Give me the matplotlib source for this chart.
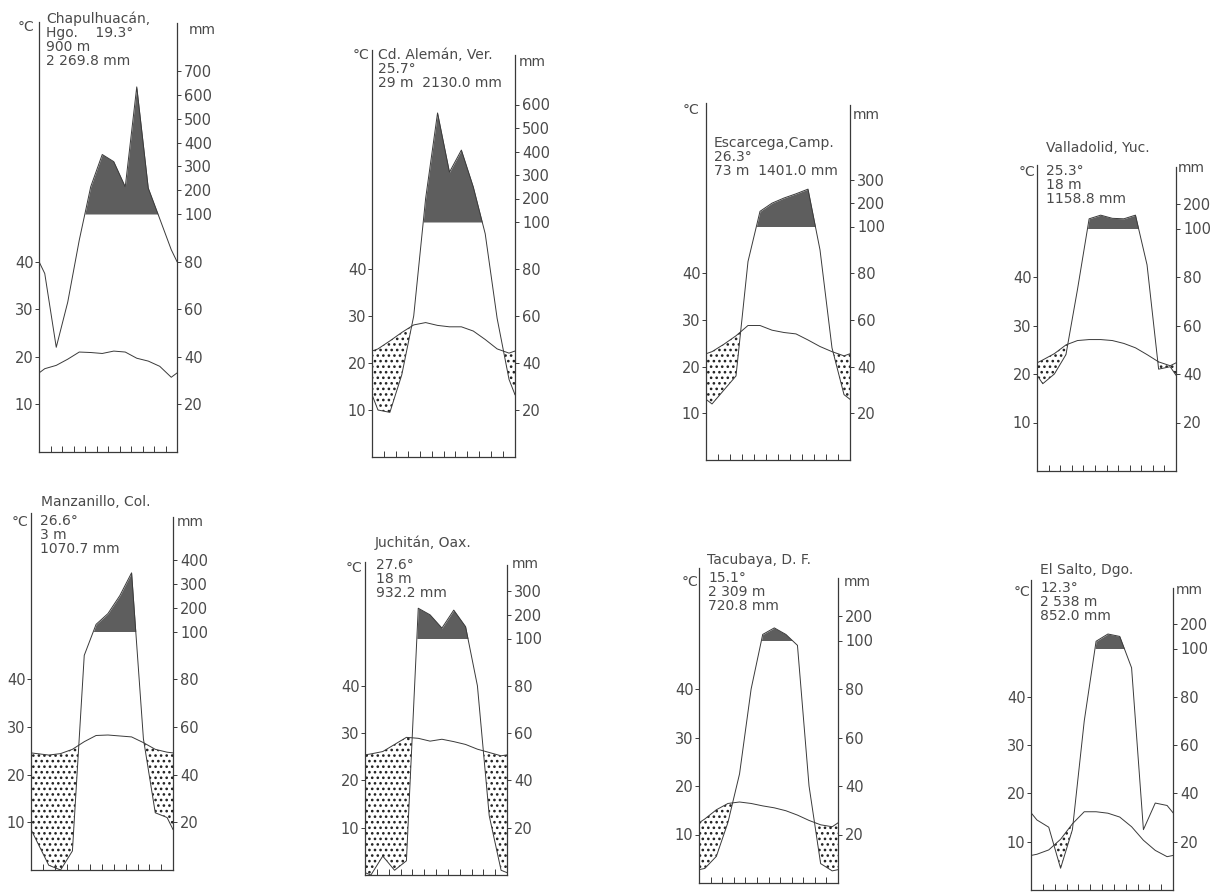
import numpy as np
import matplotlib.pyplot as plt

# 8 diagramas climáticos (tipo Walter-Lieth), escala: 10 °C = 20 mm, arriba de 100 mm 1:10

stations = ["Chapulhuacán,\nHgo.    19.3°\n900 m\n2 269.8 mm",
            "Cd. Alemán, Ver.\n25.7°\n29 m  2130.0 mm",
            "Escarcega,Camp.\n26.3°\n73 m  1401.0 mm",
            "Valladolid, Yuc.", "Manzanillo, Col.", "Juchitán, Oax.",
            "Tacubaya, D. F.", "El Salto, Dgo."]
subtitles = [None, None, None,
             "25.3°\n18 m\n1158.8 mm", "26.6°\n3 m\n1070.7 mm",
             "27.6°\n18 m\n932.2 mm", "15.1°\n2 309 m\n720.8 mm",
             "12.3°\n2 538 m\n852.0 mm"]

# temperatura media mensual (°C), ene..dic
t_chap = [17.5, 18.2, 19.5, 21.0, 20.9, 20.7, 21.2, 21.0, 19.7, 19.1, 18.0, 15.7]
t_alem = [23.0, 24.7, 26.5, 28.1, 28.6, 28.0, 27.7, 27.7, 26.8, 25.0, 23.0, 22.1]
t_esca = [23.2, 24.8, 26.6, 28.8, 28.8, 27.8, 27.3, 27.0, 25.7, 24.3, 23.2, 22.3]
t_vall = [22.9, 24.2, 26.0, 26.9, 27.1, 27.1, 26.9, 26.3, 25.4, 24.0, 22.5, 21.7]
t_manz = [24.4, 24.1, 24.4, 25.3, 26.9, 28.2, 28.3, 28.1, 27.9, 26.7, 25.3, 24.7]
t_juch = [25.6, 26.1, 27.6, 29.1, 28.9, 28.3, 28.7, 28.2, 27.6, 26.6, 25.9, 25.2]
t_tacu = [13.2, 15.1, 16.4, 16.7, 16.4, 15.9, 15.5, 14.9, 14.0, 12.9, 12.0, 11.6]
t_salt = [7.4, 8.3, 10.5, 13.7, 16.2, 16.2, 15.9, 15.1, 13.1, 10.3, 8.2, 6.9]

# precipitación mensual (mm)
p_chap = [75, 44, 63, 89, 215, 350, 320, 214, 634, 209, 98, 85]
p_alem = [20, 19, 35, 60, 200, 564, 312, 406, 249, 95, 59, 33]
p_esca = [24, 30, 36, 85, 165, 200, 222, 240, 260, 90, 48, 28]
p_vall = [36, 40, 48, 75, 140, 155, 142, 140, 155, 85, 42, 43]
p_manz = [12, 2, 0, 8, 90, 130, 175, 250, 346, 55, 24, 22]
p_juch = [0, 8, 2, 6, 228, 200, 144, 220, 150, 80, 25, 2]
p_tacu = [6, 11, 25, 45, 80, 125, 152, 125, 98, 40, 8, 5]
p_salt = [29, 26, 9, 25, 70, 130, 160, 150, 92, 25, 36, 35]

temps = [t_chap, t_alem, t_esca, t_vall, t_manz, t_juch, t_tacu, t_salt]
rains = [p_chap, p_alem, p_esca, p_vall, p_manz, p_juch, p_tacu, p_salt]
mm_ticks = [[20, 40, 60, 80, 100, 200, 300, 400, 500, 600, 700],
            [20, 40, 60, 80, 100, 200, 300, 400, 500, 600],
            [20, 40, 60, 80, 100, 200, 300],
            [20, 40, 60, 80, 100, 200],
            [20, 40, 60, 80, 100, 200, 300, 400],
            [20, 40, 60, 80, 100, 200, 300],
            [20, 40, 60, 80, 100, 200],
            [20, 40, 60, 80, 100, 200]]

# posición de cada diagrama en pixeles: eje izq, eje der, y de 0 °C, px por °C,
# tope eje izq, tope eje der
boxes = [(39, 177, 452, 4.76, 22, 23),
         (372, 515, 457, 4.70, 50, 55),
         (706, 850, 460, 4.67, 103, 105),
         (1037, 1176, 471, 4.85, 165, 167),
         (31, 173, 870, 4.77, 513, 517),
         (365, 507, 875, 4.73, 562, 565),
         (699, 838, 883, 4.85, 568, 578),
         (1031, 1173, 890, 4.83, 580, 588)]
# (x, y) del texto del nombre, (x, y) del resto, °C (x der, y), mm (x, y)
title_pos = [(46, 12), (378, 48), (714, 136), (1046, 141),
             (41, 495), (375, 535), (707, 553), (1040, 563)]
sub_pos = [None, None, None, (1046, 164), (40, 514), (376, 558), (708, 571), (1040, 581)]
degc_pos = [(34, 27), (369, 55), (699, 110), (1035, 172),
            (28, 522), (362, 568), (698, 582), (1030, 592)]
mm_pos = [(189, 30), (519, 62), (853, 115), (1178, 168),
          (177, 522), (512, 564), (844, 582), (1176, 590)]

W, H = 1214, 892
ink = "#3a3a3a"
txt = "#4a4a4a"
dark = "#5e5e5e"

plt.rcParams["font.family"] = ["DejaVu Sans"]
plt.rcParams["hatch.color"] = "#222222"
plt.rcParams["hatch.linewidth"] = 1.1


def mm_units(p):
    # mm -> unidades del eje de temperatura
    p = np.asarray(p, dtype=float)
    return np.where(p <= 100, p / 2.0, 50 + (p - 100) / 20.0)


fig = plt.figure(figsize=(W / 100, H / 100), dpi=100)
fig.patch.set_facecolor("white")

mid = np.arange(12) + 0.5
x = np.concatenate([[0], mid, [12]])

for i in range(8):
    left, right, zero, sc, top_l, top_r = boxes[i]
    ax = fig.add_axes([left / W, 1 - zero / H, (right - left) / W, (zero - top_l) / H])
    ymax = (zero - top_l) / sc
    ax.set_xlim(0, 12)
    ax.set_ylim(0, ymax)

    t = np.asarray(temps[i], dtype=float)
    r = mm_units(rains[i])
    # los extremos se cierran con el promedio dic/ene
    tt = np.concatenate([[(t[0] + t[-1]) / 2], t, [(t[0] + t[-1]) / 2]])
    rr = np.concatenate([[(r[0] + r[-1]) / 2], r, [(r[0] + r[-1]) / 2]])

    ax.fill_between(x, 50, rr, where=rr > 50, interpolate=True,
                    color=dark, lw=0, zorder=1)
    ax.fill_between(x, rr, tt, where=rr < tt, interpolate=True,
                    facecolor="white", edgecolor="#222222", hatch="...", lw=0, zorder=1)
    ax.plot(x, tt, color=ink, lw=0.7, zorder=3)
    ax.plot(x, rr, color=ink, lw=0.7, zorder=3)

    for s in ["top", "right"]:
        ax.spines[s].set_visible(False)
    for s in ["left", "bottom"]:
        ax.spines[s].set_color(ink)
        ax.spines[s].set_linewidth(0.9)

    ax.set_xticks([])
    ax.set_xticks(np.arange(1, 12), minor=True)
    ax.tick_params(axis="x", which="minor", direction="in", length=4, width=0.7, color=ink)
    ax.set_yticks([10, 20, 30, 40])
    ax.tick_params(axis="y", length=3, width=0.7, color=ink, labelsize=10.5,
                   labelcolor=txt, pad=1)

    ax2 = ax.twinx()
    ax2.set_ylim(0, ymax)
    for s in ["top", "left", "bottom"]:
        ax2.spines[s].set_visible(False)
    ax2.spines["right"].set_bounds(0, (zero - top_r) / sc)
    ax2.spines["right"].set_color(ink)
    ax2.spines["right"].set_linewidth(0.9)
    ax2.set_yticks(mm_units(mm_ticks[i]))
    ax2.set_yticklabels([str(v) for v in mm_ticks[i]])
    ax2.tick_params(axis="y", length=3, width=0.7, color=ink, labelsize=10.5,
                    labelcolor=txt, pad=2)

    tx, ty = title_pos[i]
    fig.text(tx / W, 1 - ty / H, stations[i], ha="left", va="top",
             fontsize=10, color=txt, linespacing=0.98)
    if subtitles[i] is not None:
        sx, sy = sub_pos[i]
        fig.text(sx / W, 1 - sy / H, subtitles[i], ha="left", va="top",
                 fontsize=10, color=txt, linespacing=0.98)
    cx, cy = degc_pos[i]
    fig.text(cx / W, 1 - cy / H, "°C", ha="right", va="center", fontsize=10, color=txt)
    mx, my = mm_pos[i]
    fig.text(mx / W, 1 - my / H, "mm", ha="left", va="center", fontsize=10, color=txt)

fig.savefig("out.png", dpi=100, facecolor="white")
